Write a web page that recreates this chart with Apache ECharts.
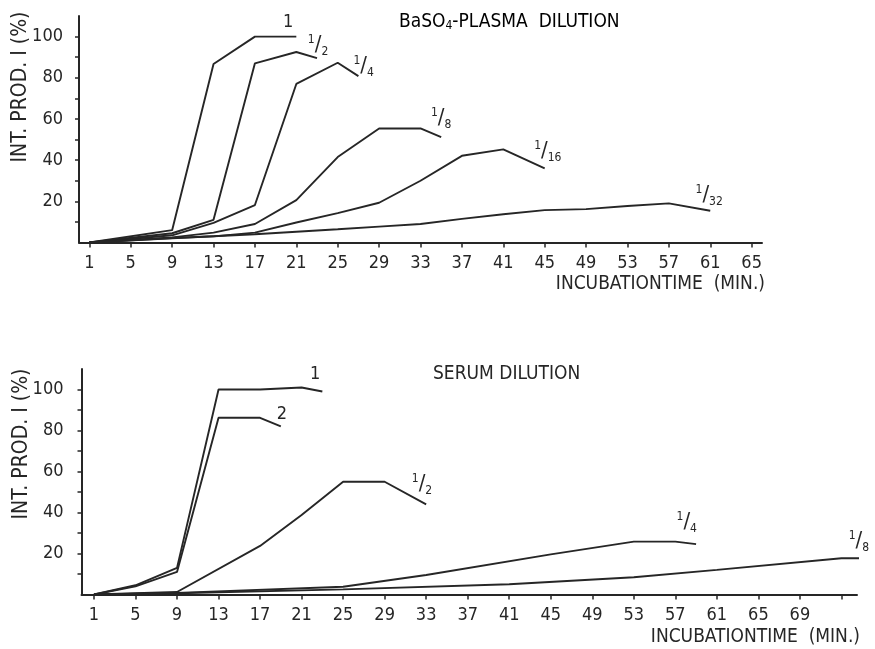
<!DOCTYPE html>
<html>
<head>
<meta charset="utf-8">
<script src="https://cdn.jsdelivr.net/npm/echarts@6/dist/echarts.min.js"></script>
<style>
html,body{margin:0;padding:0;background:#fff;}
#c{width:875px;height:649px;}
</style>
</head>
<body>
<div id="c"></div>
<script>
// ---------- tick labels ----------
const topTicks = [1,5,9,13,17,21,25,29,33,37,41,45,49,53,57,61,65];
const bottomTicks = [1,5,9,13,17,21,25,29,33,37,41,45,49,53,57,61,65,69,73];
const bottomLabels = [1,5,9,13,17,21,25,29,33,37,41,45,49,53,57,61,65,69];
const yTicks = [10,20,30,40,50,60,70,80,90,100];
const yLabels = [20,40,60,80,100];

// ---------- BaSO4-plasma dilution series [minute, %] ----------
const plasma_1    = [[1,0],[9,6],[13,86.7],[17,100],[21,100]];
const plasma_1_2  = [[1,0],[9,4.5],[13,11],[17,87],[21,92.5],[23,89.5]];
const plasma_1_4  = [[1,0],[9,3.5],[13,9.5],[17,18.2],[21,77],[25,87.3],[27,80.8]];
const plasma_1_8  = [[1,0],[9,2.5],[13,4.8],[17,9],[21,20.6],[25,41.5],[29,55.4],[33,55.4],[35,51.2]];
const plasma_1_16 = [[1,0],[9,2],[13,3],[17,4.8],[21,9.7],[25,14.3],[29,19.3],[33,30],[37,42.1],[41,45.2],[45,36]];
const plasma_1_32 = [[1,0],[9,2.2],[13,3],[17,4],[21,5.2],[25,6.4],[29,7.7],[33,9],[37,11.5],[41,13.7],[45,15.7],[49,16.2],[53,17.7],[57,19],[61,15.4]];

// ---------- serum dilution series [minute, %] ----------
const serum_1   = [[1,0],[5,4.5],[9,13],[13,100],[17,100],[21,101],[23,99]];
const serum_2   = [[1,0],[5,4],[9,11],[13,86.2],[17,86.2],[19,82]];
const serum_1_2 = [[1,0],[9,1.2],[17,23.7],[21,38.8],[25,55],[29,55],[33,44]];
const serum_1_4 = [[1,0],[9,0.8],[25,3.8],[33,9.5],[45,19.6],[53,25.8],[57,25.8],[59,24.6]];
const serum_1_8 = [[1,0],[9,0.6],[25,2.5],[41,5],[53,8.4],[61,12],[73,17.7],[75,17.7],[76.5,16]];

// ---------- curve labels: text + data-space anchor ----------
const plasmaLabels = [
  {text:['1'], at:[20.2,106.8]},
  {text:['1','2'], at:[23.1,95.6]},
  {text:['1','4'], at:[27.5,85.4]},
  {text:['1','8'], at:[35.0,60.2]},
  {text:['1','16'], at:[45.3,44.2]},
  {text:['1','32'], at:[60.9,22.8]}
];
const serumLabels = [
  {text:['1'], at:[22.3,107.3]},
  {text:['2'], at:[19.1,87.8]},
  {text:['1','2'], at:[32.6,53.7]},
  {text:['1','4'], at:[58.1,35.1]},
  {text:['1','8'], at:[74.3,25.9], shift:[4,0]}
];

const FONT = '"Liberation Sans Narrow","DejaVu Sans Condensed","Roboto Condensed","Liberation Sans",sans-serif';
const INK = '#262626';

function labelText(t){
  if (t.length === 1) return '{w|' + t[0] + '}';
  return '{n|' + t[0] + '}{s|/}{d|' + t[1] + '}';
}
const richFrac = {
  w:{fontSize:18, fontFamily:FONT, color:INK},
  n:{fontSize:12, fontFamily:FONT, color:INK, verticalAlign:'top', lineHeight:12},
  s:{fontSize:22, fontFamily:FONT, color:INK, lineHeight:24},
  d:{fontSize:12, fontFamily:FONT, color:INK, verticalAlign:'bottom', lineHeight:12}
};

function mkSeries(data, grid, lbl){
  const s = {
    type:'line', data:data, xAxisIndex:grid, yAxisIndex:grid,
    symbol:'none', clip:false, animation:false, silent:true,
    lineStyle:{color:INK, width:1.9}
  };
  if (lbl){
    s.markPoint = {
      symbol:'circle', symbolSize:1, silent:true, animation:false,
      itemStyle:{color:'rgba(0,0,0,0)'},
      label:{show:true, position:'inside', offset:lbl.shift || [0,0], formatter:labelText(lbl.text), rich:richFrac},
      data:[{coord:lbl.at}]
    };
  }
  return s;
}

const axisLabelStyle = {fontFamily:FONT, fontSize:18, color:INK};

function xAxisCfg(grid, min, max, ticks, labels){
  return {
    type:'value', gridIndex:grid, min:min, max:max,
    splitLine:{show:false},
    axisLine:{onZero:false, lineStyle:{color:INK, width:2}},
    axisTick:{customValues:ticks, length:5, lineStyle:{color:INK, width:1.5}},
    axisLabel:Object.assign({customValues:labels, margin:12}, axisLabelStyle)
  };
}
function yAxisCfg(grid, margin){
  return {
    type:'value', gridIndex:grid, min:0, max:110,
    splitLine:{show:false},
    axisLine:{show:true, onZero:false, lineStyle:{color:INK, width:2}},
    axisTick:{show:true, customValues:yTicks, length:4, lineStyle:{color:INK, width:1.5}},
    axisLabel:Object.assign({customValues:yLabels, margin:margin}, axisLabelStyle)
  };
}

const plasmaSeries = [plasma_1, plasma_1_2, plasma_1_4, plasma_1_8, plasma_1_16, plasma_1_32];
const serumSeries = [serum_1, serum_2, serum_1_2, serum_1_4, serum_1_8];

const chart = echarts.init(document.getElementById('c'), null, {renderer:'canvas'});
const titleStyle = {fontFamily:FONT, fontSize:19, fill:INK};
const yNameStyle = {fontFamily:FONT, fontSize:21, fill:INK};
chart.setOption({
  backgroundColor:'#fff',
  animation:false,
  grid:[
    {left:79, right:113, top:16, bottom:406.5},
    {left:81.5, right:18, top:369, bottom:54.5}
  ],
  xAxis:[ xAxisCfg(0, 0, 66, topTicks, topTicks), xAxisCfg(1, -0.2, 74.5, bottomTicks, bottomLabels) ],
  yAxis:[ yAxisCfg(0, 16), yAxisCfg(1, 18) ],
  series: plasmaSeries.map((d,i)=>mkSeries(d,0,plasmaLabels[i]))
          .concat(serumSeries.map((d,i)=>mkSeries(d,1,serumLabels[i]))),
  graphic:[
    {type:'text', left:399, top:13, style:{
      text:'{a|BaSO}{b|4}{a|-PLASMA  DILUTION}',
      rich:{a:{fontFamily:FONT,fontSize:19,color:INK}, b:{fontFamily:FONT,fontSize:12,color:INK,verticalAlign:'bottom',padding:[7,0,0,0]}}
    }},
    {type:'text', right:110, top:275, style:Object.assign({text:'INCUBATIONTIME  (MIN.)'}, titleStyle)},
    {type:'text', left:433, top:365, style:Object.assign({text:'SERUM DILUTION'}, titleStyle)},
    {type:'text', right:15, top:628, style:Object.assign({text:'INCUBATIONTIME  (MIN.)'}, titleStyle)},
    {type:'text', x:21, y:87, rotation:Math.PI/2, style:Object.assign({text:'INT. PROD. I (%)', align:'center', verticalAlign:'middle'}, yNameStyle)},
    {type:'text', x:22, y:444, rotation:Math.PI/2, style:Object.assign({text:'INT. PROD. I (%)', align:'center', verticalAlign:'middle'}, yNameStyle)}
  ]
});
</script>
</body>
</html>
